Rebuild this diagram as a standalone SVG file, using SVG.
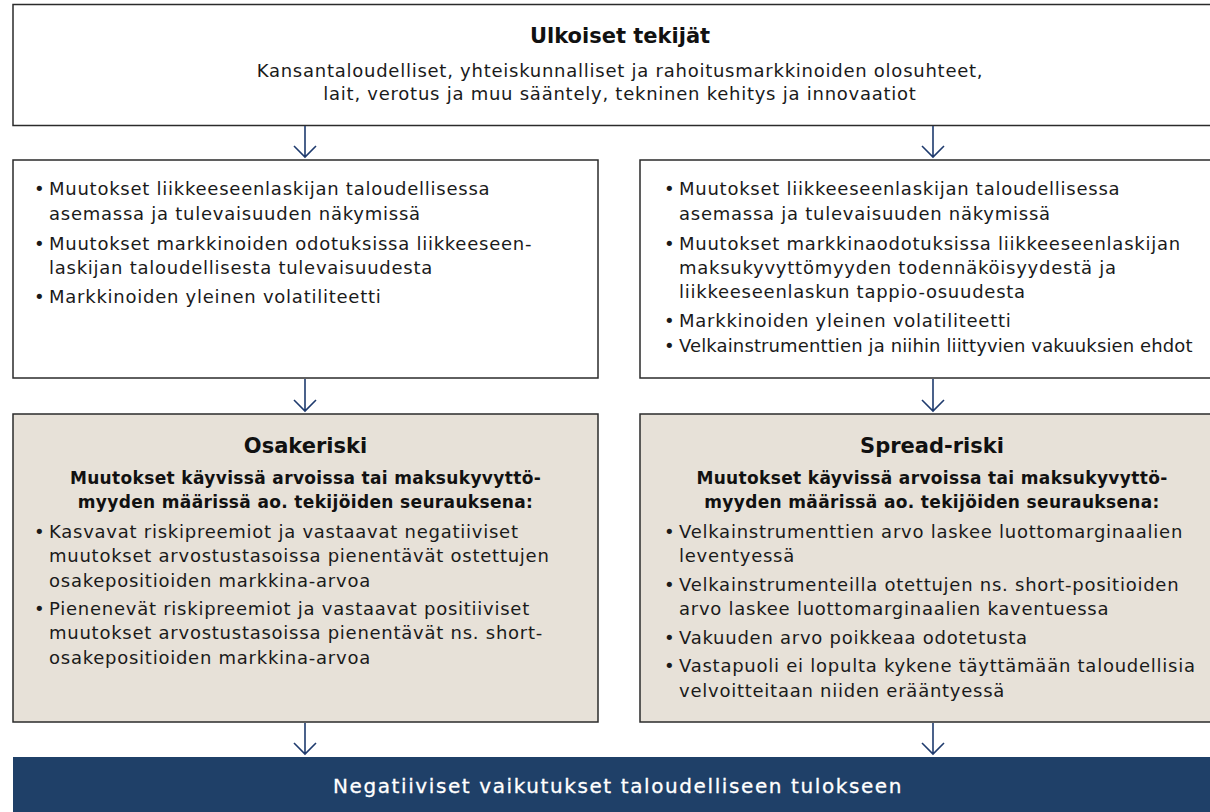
<svg xmlns="http://www.w3.org/2000/svg" width="1210" height="812" viewBox="0 0 1210 812">
  <style>
    .box { fill: #ffffff; stroke: #2b2b2b; stroke-width: 1.5; }
    .risk { fill: #e7e1d8; stroke: #2b2b2b; stroke-width: 1.5; }
    .bar { fill: #1f4068; }
    .t { font-family: "DejaVu Sans", sans-serif; font-size: 18px; fill: #1a1a1a; letter-spacing: 0.75px; }
    .tight { letter-spacing: 0.12px; }
    .c { text-anchor: middle; }
    .h { font-family: "DejaVu Sans", sans-serif; font-weight: bold; font-size: 21px; fill: #111111; text-anchor: middle; }
    .s { font-family: "DejaVu Sans", sans-serif; font-weight: bold; font-size: 17px; fill: #111111; text-anchor: middle; letter-spacing: 0.35px; }
    .w { font-family: "DejaVu Sans", sans-serif; font-size: 20px; fill: #ffffff; stroke: #ffffff; stroke-width: 0.3; text-anchor: middle; letter-spacing: 1.6px; }
    .arrow { fill: none; stroke: #1f3b6e; stroke-width: 1.6; }
  </style>

  <!-- external factors -->
  <g id="external">
    <rect class="box" x="13" y="4.5" width="1215" height="121"/>
    <text class="h" x="620" y="43">Ulkoiset tekijät</text>
    <text class="t c" x="620" y="77">Kansantaloudelliset, yhteiskunnalliset ja rahoitusmarkkinoiden olosuhteet,</text>
    <text class="t c" x="620" y="100">lait, verotus ja muu sääntely, tekninen kehitys ja innovaatiot</text>
  </g>

  <!-- drivers: equity side -->
  <g id="drivers-equity">
    <rect class="box" x="13" y="160" width="585" height="218"/>
    <text class="t" x="34" y="195">•</text>
    <text class="t" x="49" y="195">Muutokset liikkeeseenlaskijan taloudellisessa</text>
    <text class="t" x="49" y="220">asemassa ja tulevaisuuden näkymissä</text>
    <text class="t" x="34" y="250">•</text>
    <text class="t" x="49" y="250">Muutokset markkinoiden odotuksissa liikkeeseen-</text>
    <text class="t" x="49" y="274">laskijan taloudellisesta tulevaisuudesta</text>
    <text class="t" x="34" y="303">•</text>
    <text class="t" x="49" y="303">Markkinoiden yleinen volatiliteetti</text>
  </g>

  <!-- drivers: spread side -->
  <g id="drivers-spread">
    <rect class="box" x="640" y="160" width="588" height="218"/>
    <text class="t" x="664" y="195">•</text>
    <text class="t" x="679" y="195">Muutokset liikkeeseenlaskijan taloudellisessa</text>
    <text class="t" x="679" y="220">asemassa ja tulevaisuuden näkymissä</text>
    <text class="t" x="664" y="250">•</text>
    <text class="t" x="679" y="250">Muutokset markkinaodotuksissa liikkeeseenlaskijan</text>
    <text class="t" x="679" y="274">maksukyvyttömyyden todennäköisyydestä ja</text>
    <text class="t" x="679" y="298">liikkeeseenlaskun tappio-osuudesta</text>
    <text class="t" x="664" y="327">•</text>
    <text class="t" x="679" y="327">Markkinoiden yleinen volatiliteetti</text>
    <text class="t" x="664" y="352">•</text>
    <text class="t tight" x="679" y="352">Velkainstrumenttien ja niihin liittyvien vakuuksien ehdot</text>
  </g>

  <!-- equity risk -->
  <g id="equity-risk">
    <rect class="risk" x="13" y="414" width="585" height="308"/>
    <text class="h" x="305.5" y="453">Osakeriski</text>
    <text class="s" x="305.5" y="484">Muutokset käyvissä arvoissa tai maksukyvyttö-</text>
    <text class="s" x="305.5" y="508">myyden määrissä ao. tekijöiden seurauksena:</text>
    <text class="t" x="34" y="538">•</text>
    <text class="t" x="49" y="538">Kasvavat riskipreemiot ja vastaavat negatiiviset</text>
    <text class="t" x="49" y="562">muutokset arvostustasoissa pienentävät ostettujen</text>
    <text class="t" x="49" y="587">osakepositioiden markkina-arvoa</text>
    <text class="t" x="34" y="615">•</text>
    <text class="t" x="49" y="615">Pienenevät riskipreemiot ja vastaavat positiiviset</text>
    <text class="t" x="49" y="639">muutokset arvostustasoissa pienentävät ns. short-</text>
    <text class="t" x="49" y="664">osakepositioiden markkina-arvoa</text>
  </g>

  <!-- spread risk -->
  <g id="spread-risk">
    <rect class="risk" x="640" y="414" width="588" height="308"/>
    <text class="h" x="932" y="453">Spread-riski</text>
    <text class="s" x="932" y="484">Muutokset käyvissä arvoissa tai maksukyvyttö-</text>
    <text class="s" x="932" y="508">myyden määrissä ao. tekijöiden seurauksena:</text>
    <text class="t" x="664" y="538">•</text>
    <text class="t" x="679" y="538">Velkainstrumenttien arvo laskee luottomarginaalien</text>
    <text class="t" x="679" y="562">leventyessä</text>
    <text class="t" x="664" y="591">•</text>
    <text class="t" x="679" y="591">Velkainstrumenteilla otettujen ns. short-positioiden</text>
    <text class="t" x="679" y="615">arvo laskee luottomarginaalien kaventuessa</text>
    <text class="t" x="664" y="644">•</text>
    <text class="t" x="679" y="644">Vakuuden arvo poikkeaa odotetusta</text>
    <text class="t" x="664" y="672">•</text>
    <text class="t" x="679" y="672">Vastapuoli ei lopulta kykene täyttämään taloudellisia</text>
    <text class="t" x="679" y="697">velvoitteitaan niiden erääntyessä</text>
  </g>

  <!-- outcome -->
  <g id="outcome">
    <rect class="bar" x="13" y="757" width="1215" height="60"/>
    <text class="w" x="618" y="793">Negatiiviset vaikutukset taloudelliseen tulokseen</text>
  </g>

  <!-- connectors -->
  <g id="connectors" class="arrow">
    <path d="M305,126 V157 M294,146 L305,157 L316,146"/>
    <path d="M933,126 V157 M922,146 L933,157 L944,146"/>
    <path d="M305,379 V411 M294,400 L305,411 L316,400"/>
    <path d="M933,379 V411 M922,400 L933,411 L944,400"/>
    <path d="M305,723 V754 M294,743 L305,754 L316,743"/>
    <path d="M933,723 V754 M922,743 L933,754 L944,743"/>
  </g>
</svg>
